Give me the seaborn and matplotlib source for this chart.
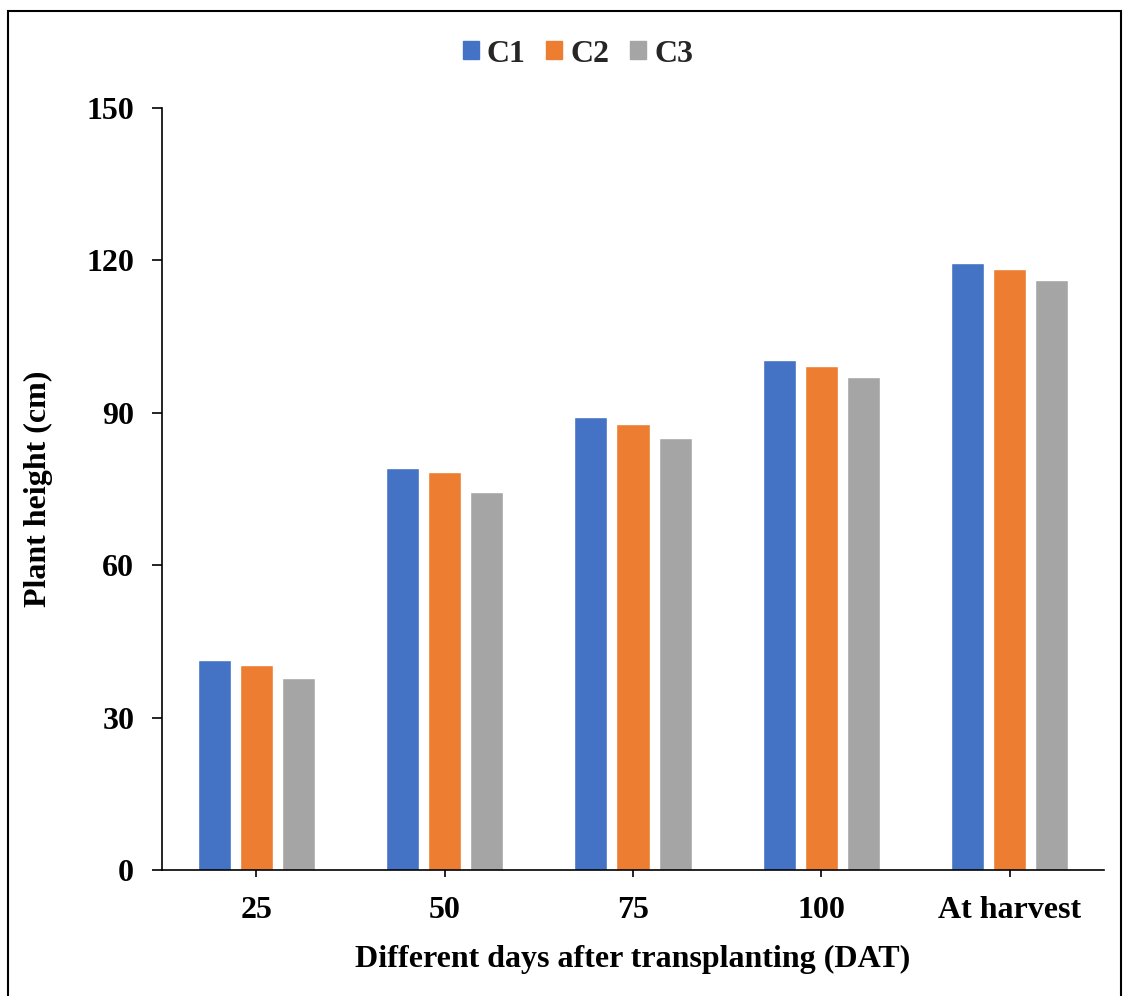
import numpy as np
import pandas as pd
import matplotlib
matplotlib.use('Agg')
import matplotlib.pyplot as plt
import seaborn as sns
from matplotlib.patches import Rectangle

sns.set_theme(style='white')
plt.rcParams['font.family'] = ['Liberation Serif', 'DejaVu Serif']
plt.rcParams['font.weight'] = 'bold'

# data
stages = ['25', '50', '75', '100', 'At harvest']
c1 = [41.3, 79.1, 89.2, 100.4, 119.4]
c2 = [40.4, 78.3, 87.8, 99.3, 118.4]
c3 = [37.8, 74.5, 85.0, 97.0, 116.1]
series_names = ['C1', 'C2', 'C3']
colors = ['#4472C4', '#ED7D31', '#A5A5A5']
y_ticks = [0, 30, 60, 90, 120, 150]

df = pd.DataFrame({'stage': stages * 3,
                   'height': c1 + c2 + c3,
                   'series': np.repeat(series_names, len(stages))})

FS = 23

fig = plt.figure(figsize=(11.23, 9.96), dpi=100)
ax = fig.add_axes([162 / 1123, 1 - 870 / 996, (1104 - 162) / 1123, (870 - 108) / 996])

sns.barplot(data=df, x='stage', y='height', hue='series', order=stages,
            hue_order=series_names, palette=colors, width=0.67, gap=0.215,
            saturation=1, errorbar=None, ax=ax, legend=False)

ax.set_xlim(-0.5, 4.5)
ax.set_ylim(0, 150)
ax.set_yticks(y_ticks)
for s in ['top', 'right']:
    ax.spines[s].set_visible(False)
for s in ['left', 'bottom']:
    ax.spines[s].set_color('black')
    ax.spines[s].set_linewidth(1.2)
ax.tick_params(axis='both', direction='out', width=1.2, color='black',
               labelsize=FS, labelcolor='black', bottom=True, left=True)
ax.tick_params(axis='x', length=5, pad=14)
ax.tick_params(axis='y', length=7, pad=13)
for lbl in ax.get_xticklabels() + ax.get_yticklabels():
    lbl.set_fontweight('bold')

ax.set_xlabel('Different days after transplanting (DAT)', fontsize=FS,
              fontweight='bold', color='black', labelpad=14)
ax.set_ylabel('Plant height (cm)', fontsize=FS, fontweight='bold',
              color='black', labelpad=24)

handles = [Rectangle((0, 0), 1, 1, color=c) for c in colors]
fig.legend(handles, series_names, loc='center', ncol=3,
           bbox_to_anchor=(578 / 1123, 1 - 54 / 996), frameon=False,
           prop={'family': 'Liberation Serif', 'weight': 'bold', 'size': FS},
           handlelength=0.5, handleheight=0.5, handletextpad=0.25, columnspacing=0.65)

# outer frame
fig.patches.append(Rectangle((8 / 1123, -0.01), (1121 - 8) / 1123, 1 - 11 / 996 + 0.01,
                             transform=fig.transFigure, fill=False,
                             edgecolor='black', linewidth=1.5))

fig.savefig('out.png', dpi=100)
